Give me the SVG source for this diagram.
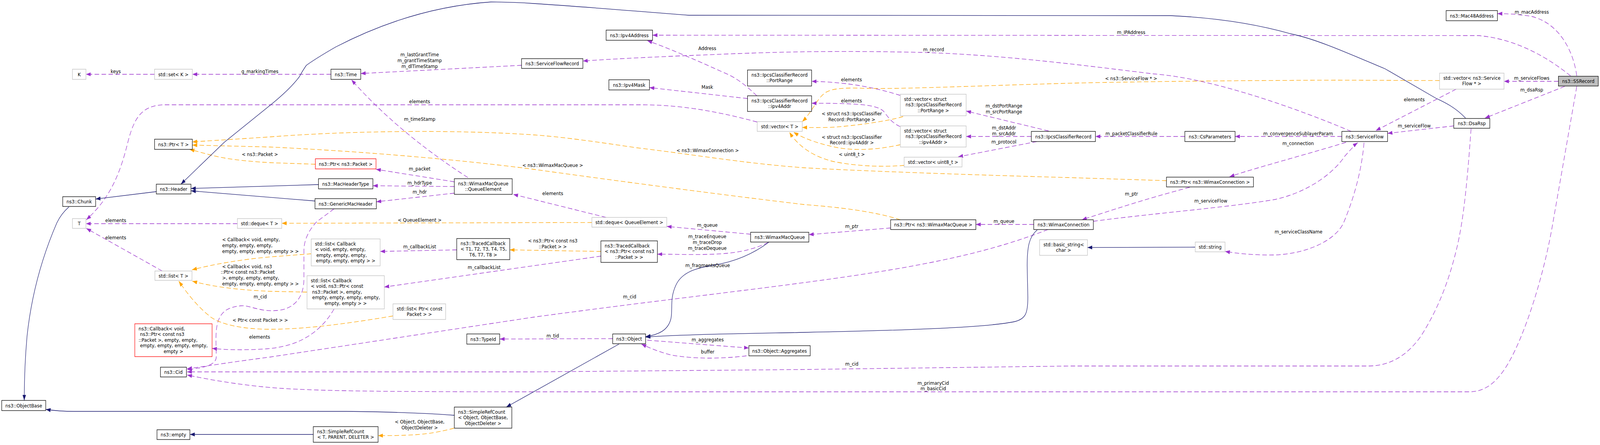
<svg xmlns="http://www.w3.org/2000/svg" width="4617" height="1138" viewBox="0 0 4617 1138" preserveAspectRatio="none">
<defs>
<style>
svg:root{width:100vw;height:100vh;display:block;overflow:hidden}
text{font-family:"DejaVu Sans","Liberation Sans",sans-serif;font-size:13px;fill:#000}
.m{text-anchor:middle}
.bx{fill:#fff;stroke:#000;stroke-width:1.3}
.gy{fill:#fff;stroke:#bfbfbf;stroke-width:1.3}
.rd{fill:#fff;stroke:#ff0000;stroke-width:1.3}
.sel{fill:#bfbfbf;stroke:#000;stroke-width:1.3}
.e{fill:none;stroke-width:1.3}
.p{stroke:#9a32cd;stroke-dasharray:13,7;marker-end:url(#ap)}
.o{stroke:#ffa500;stroke-dasharray:13,7;marker-end:url(#ao)}
.b{stroke:#191970;marker-end:url(#ab)}
</style>
<marker id="ap" viewBox="0 0 14 10" refX="14" refY="5" markerWidth="14" markerHeight="10" markerUnits="userSpaceOnUse" orient="auto"><path d="M0,0L14,5L0,10z" fill="#9a32cd"/></marker>
<marker id="ao" viewBox="0 0 14 10" refX="14" refY="5" markerWidth="14" markerHeight="10" markerUnits="userSpaceOnUse" orient="auto"><path d="M0,0L14,5L0,10z" fill="#ffa500"/></marker>
<marker id="ab" viewBox="0 0 14 10" refX="14" refY="5" markerWidth="14" markerHeight="10" markerUnits="userSpaceOnUse" orient="auto"><path d="M0,0L14,5L0,10z" fill="#191970"/></marker>
</defs>
<rect width="4617" height="1138" fill="#fff"/>
<g id="connectors">
<path class="e p" d="M446,190L248,190"/>
<path class="e p" d="M955,190L555,190"/>
<path class="e p" d="M1505,167L1041,188"/>
<path class="e p" d="M1350,454Q1150,340 1014,204"/>
<path class="e p" d="M2185,312C2050,280 1950,268 1848,268L478,268C410,268 388,300 370,360C348,440 320,505 249,562"/>
<path class="e p" d="M685,572L248,572"/>
<path class="e p" d="M468,693L249,584"/>
<path class="e p" d="M964,534L914,567C895,585 877,610 877,641L877,713C877,760 850,790 800,794C750,798 720,780 696,782C660,785 640,795 630,820C620,845 624,880 624,913C624,930 600,940 540,945"/>
<path class="e p" d="M3024,587C2700,700 2300,720 1540,811L780,913C650,928 600,936 540,943"/>
<path class="e p" d="M4245,329C4235,450 4225,560 4202,641C4180,720 4150,790 4100,860C4060,910 4010,936 3948,936L3090,936L2310,945L1540,951L540,951"/>
<path class="e p" d="M4550,221L4481,570C4460,680 4420,800 4380,880C4340,960 4300,1002 4240,1002L1550,1002C1100,1002 900,1000 780,991C680,983 600,970 540,959"/>
<path class="e o" d="M898,649L780,657C700,663 620,675 554,690"/>
<path class="e o" d="M886,747L780,745C700,742 620,735 555,719"/>
<path class="e o" d="M1134,808C1000,828 880,842 780,842C700,842 640,830 610,812C570,785 540,750 516,719"/>
<path class="e p" d="M964,790C945,820 915,850 869,870C840,883 800,890 770,892C720,895 670,896 612,891"/>
<path class="e p" d="M1318,639L1097,643"/>
<path class="e p" d="M1734,655L1109,734"/>
<path class="e p" d="M2217,620C2170,640 2120,648 2060,650C2000,652 1950,650 1897,650"/>
<path class="e p" d="M2166,599L1924,579"/>
<path class="e p" d="M1749,556L1481,497"/>
<path class="e o" d="M1708,569L813,571"/>
<path class="e p" d="M1311,465L1085,433"/>
<path class="e p" d="M1311,477L1076,475"/>
<path class="e p" d="M1311,494L1086,516"/>
<path class="e b" d="M919,472L551,482"/>
<path class="e b" d="M909,514L551,488"/>
<path class="e b" d="M451,490L276,509"/>
<path class="e b" d="M199,529C185,540 172,555 164,570C120,660 90,760 78,860C72,920 70,980 70,1024"/>
<path class="e b" d="M1311,1062C1200,1055 1100,1053 1000,1052L214,1052C180,1052 155,1050 132,1047"/>
<path class="e b" d="M904,1111L548,1111"/>
<path class="e o" d="M1310,1095C1270,1105 1220,1112 1168,1113C1140,1114 1110,1114 1091,1114"/>
<path class="e b" d="M1786,880L1461,1041"/>
<path class="e p" d="M1768,866L1442,867"/>
<path class="e p" d="M1868,870L2161,890"/>
<path class="e p" d="M2154,910C2080,918 2000,918 1938,908C1900,900 1870,888 1851,880"/>
<path class="e b" d="M2219,619C2180,645 2130,668 2060,678C2000,686 1965,700 1950,730C1932,765 1942,790 1936,815C1928,845 1900,856 1863,861"/>
<path class="e b" d="M2993,588C2970,605 2964,630 2964,680L2966,760C2966,800 2960,815 2930,822C2850,838 2600,845 2320,850C2100,854 1950,856 1863,862"/>
<path class="e p" d="M2983,574L2816,574"/>
<path class="e p" d="M2570,583L2334,600"/>
<path class="e o" d="M2598,562C2520,540 2420,530 2320,523C2100,500 1800,465 1540,433C1300,405 1000,385 780,376L555,371"/>
<path class="e o" d="M3366,462L3080,454C2800,447 2500,438 2320,429C2150,418 2000,395 1838,378C1700,360 1620,350 1540,345C1350,333 1050,332 780,350C680,356 600,360 555,363"/>
<path class="e o" d="M910,420L780,416C700,412 650,406 610,397C585,391 565,386 547,382"/>
<path class="e o" d="M2606,298C2560,310 2480,320 2409,325C2370,327 2340,326 2315,326"/>
<path class="e o" d="M2598,370C2540,382 2470,386 2420,378C2370,370 2320,355 2290,338"/>
<path class="e o" d="M2609,423C2540,428 2460,424 2400,412C2340,398 2300,370 2278,338"/>
<path class="e o" d="M4154,206L3860,205C3500,206 3200,210 3080,213C2800,220 2600,228 2500,226C2440,224 2400,225 2380,238C2355,255 2345,285 2315,311"/>
<path class="e p" d="M3026,335L2788,284"/>
<path class="e p" d="M2976,349L2788,349"/>
<path class="e p" d="M2992,362L2765,401"/>
<path class="e p" d="M3419,349L3161,349"/>
<path class="e p" d="M3872,349L3564,349"/>
<path class="e p" d="M3884,364C3750,400 3620,430 3548,452"/>
<path class="e p" d="M3433,479C3300,510 3200,540 3122,562"/>
<path class="e p" d="M3155,566C3300,548 3550,530 3680,510C3780,490 3850,440 3880,400C3900,380 3910,370 3918,365"/>
<path class="e p" d="M3899,336C3750,280 3500,200 3329,189C3150,170 2900,140 2658,134C2450,130 2300,131 2100,138C1900,145 1780,150 1682,156"/>
<path class="e p" d="M2184,245C2160,225 2130,200 2087,185C2000,150 1920,120 1868,104"/>
<path class="e p" d="M2157,252L1874,224"/>
<path class="e p" d="M2598,244C2530,225 2450,210 2342,208"/>
<path class="e p" d="M2598,324C2570,313 2560,295 2549,284C2530,268 2480,264 2342,264"/>
<path class="e p" d="M4532,194C4470,150 4380,100 4266,91L1883,90"/>
<path class="e p" d="M4550,194C4540,130 4500,60 4420,42C4380,36 4350,35 4321,35"/>
<path class="e p" d="M4497,208L4340,208"/>
<path class="e p" d="M4515,221L4285,302"/>
<path class="e p" d="M4202,228L3970,334"/>
<path class="e p" d="M4195,322L4004,341"/>
<path class="e b" d="M4229,302C4200,275 4170,262 4143,251L3997,176C3900,140 3800,100 3727,87C3620,60 3500,45 3378,40L1988,39C1850,30 1700,18 1540,9C1480,5 1440,5 1417,5C1250,15 1100,60 969,120C920,145 895,160 884,167C870,185 868,190 864,196C840,225 800,255 770,276L647,364L522,471"/>
<path class="e b" d="M3449,632L3138,633"/>
<path class="e p" d="M3936,365C3930,430 3910,500 3877,570C3850,620 3760,650 3677,652C3620,653 3570,648 3535,643"/>
<path class="e o" d="M1734,643L1471,639"/>
<g id="edge-labels">
<text class="m" x="334" y="187">keys</text>
<text class="m" x="750" y="187">g_markingTimes</text>
<text class="m" x="1211" y="144">m_lastGrantTime</text>
<text class="m" x="1211" y="159">m_grantTimeStamp</text>
<text class="m" x="1211" y="174">m_dlTimeStamp</text>
<text class="m" x="1211" y="264">elements</text>
<text class="m" x="1211" y="309">m_timeStamp</text>
<text class="m" x="750" y="399">&lt; ns3::Packet &gt;</text>
<text class="m" x="1595" y="427">&lt; ns3::WimaxMacQueue &gt;</text>
<text class="m" x="2042" y="389">&lt; ns3::WimaxConnection &gt;</text>
<text class="m" x="1211" y="436">m_packet</text>
<text class="m" x="1211" y="472">m_hdrType</text>
<text class="m" x="1211" y="495">m_hdr</text>
<text class="m" x="1595" y="499">elements</text>
<text class="m" x="1211" y="567">&lt; QueueElement &gt;</text>
<text class="m" x="334" y="568">elements</text>
<text class="m" x="334" y="612">elements</text>
<text x="641" y="617">&lt; Callback&lt; void, empty,</text>
<text x="641" y="632">empty, empty, empty,</text>
<text x="641" y="647">empty, empty, empty, empty &gt; &gt;</text>
<text x="641" y="686">&lt; Callback&lt; void, ns3</text>
<text x="637" y="700">::Ptr&lt; const ns3::Packet</text>
<text x="641" y="715">&gt;, empty, empty, empty,</text>
<text x="641" y="730">empty, empty, empty, empty &gt; &gt;</text>
<text class="m" x="751" y="763">m_cid</text>
<text class="m" x="751" y="823">&lt; Ptr&lt; const Packet &gt; &gt;</text>
<text class="m" x="749" y="866">elements</text>
<text class="m" x="1211" y="635">m_callbackList</text>
<text class="m" x="1397" y="688">m_callbackList</text>
<text class="m" x="1595" y="620">&lt; ns3::Ptr&lt; const ns3</text>
<text class="m" x="1595" y="635">::Packet &gt; &gt;</text>
<text class="m" x="2041" y="609">m_traceEnqueue</text>
<text class="m" x="2041" y="624">m_traceDrop</text>
<text class="m" x="2041" y="639">m_traceDequeue</text>
<text class="m" x="2041" y="580">m_queue</text>
<text class="m" x="2042" y="683">m_fragmentsQueue</text>
<text class="m" x="1817" y="763">m_cid</text>
<text class="m" x="1595" y="863">m_tid</text>
<text class="m" x="2042" y="873">m_aggregates</text>
<text class="m" x="2042" y="904">buffer</text>
<text class="m" x="1211" y="1083">&lt; Object, ObjectBase,</text>
<text class="m" x="1211" y="1098">ObjectDeleter &gt;</text>
<text class="m" x="2458" y="935">m_cid</text>
<text class="m" x="2693" y="984">m_primaryCid</text>
<text class="m" x="2693" y="998">m_basicCid</text>
<text class="m" x="2041" y="128">Address</text>
<text class="m" x="2041" y="227">Mask</text>
<text class="m" x="2694" y="131">m_record</text>
<text class="m" x="2457" y="208">elements</text>
<text class="m" x="2457" y="262">elements</text>
<text class="m" x="2458" y="295">&lt; struct ns3::IpcsClassifier</text>
<text class="m" x="2458" y="310">Record::PortRange &gt;</text>
<text class="m" x="2458" y="355">&lt; struct ns3::IpcsClassifier</text>
<text class="m" x="2458" y="369">Record::ipv4Addr &gt;</text>
<text class="m" x="2458" y="399">&lt; uint8_t &gt;</text>
<text class="m" x="2897" y="275">m_dstPortRange</text>
<text class="m" x="2897" y="290">m_srcPortRange</text>
<text class="m" x="2897" y="331">m_dstAddr</text>
<text class="m" x="2897" y="346">m_srcAddr</text>
<text class="m" x="2897" y="367">m_protocol</text>
<text class="m" x="2458" y="583">m_ptr</text>
<text class="m" x="2897" y="570">m_queue</text>
<text class="m" x="3264" y="87">m_IPAddress</text>
<text class="m" x="3264" y="205">&lt; ns3::ServiceFlow * &gt;</text>
<text class="m" x="3265" y="346">m_packetClassifierRule</text>
<text class="m" x="3746" y="346">m_convergenceSublayerParam</text>
<text class="m" x="3746" y="371">m_connection</text>
<text class="m" x="3265" y="500">m_ptr</text>
<text class="m" x="3494" y="518">m_serviceFlow</text>
<text class="m" x="3747" y="597">m_serviceClassName</text>
<text class="m" x="4420" y="35">m_macAddress</text>
<text class="m" x="4420" y="204">m_serviceFlows</text>
<text class="m" x="4420" y="234">m_dsaRsp</text>
<text class="m" x="4081" y="259">elements</text>
<text class="m" x="4081" y="326">m_serviceFlow</text>
</g>
</g>
<g id="nodes">
<g id="n-K"><rect class="gy" x="209" y="177" width="39" height="26"/><text class="m" x="228.5" y="194.6">K</text></g>
<g id="n-set"><rect class="gy" x="446" y="177" width="109" height="26"/><text class="m" x="500.5" y="194.6">std::set&lt; K &gt;</text></g>
<g id="n-Time"><rect class="bx" x="955" y="177" width="86" height="26"/><text class="m" x="998" y="194.6">ns3::Time</text></g>
<g id="n-ServiceFlowRecord"><rect class="bx" x="1505" y="150" width="177" height="25"/><text class="m" x="1593.5" y="167.1">ns3::ServiceFlowRecord</text></g>
<g id="n-Ipv4Address"><rect class="bx" x="1749" y="77" width="134" height="26"/><text class="m" x="1816" y="94.6">ns3::Ipv4Address</text></g>
<g id="n-Ipv4Mask"><rect class="bx" x="1757" y="204" width="117" height="26"/><text class="m" x="1815.5" y="221.6">ns3::Ipv4Mask</text></g>
<g id="n-PortRange"><rect class="bx" x="2157" y="179" width="185" height="41"/><text class="m" x="2249.5" y="195.6">ns3::IpcsClassifierRecord</text><text class="m" x="2249.5" y="210.1">::PortRange</text></g>
<g id="n-ipv4Addr"><rect class="bx" x="2157" y="245" width="185" height="40"/><text class="m" x="2249.5" y="261.6">ns3::IpcsClassifierRecord</text><text class="m" x="2249.5" y="276.1">::ipv4Addr</text></g>
<g id="n-vectorT"><rect class="gy" x="2185" y="311" width="130" height="25"/><text class="m" x="2250" y="328.1">std::vector&lt; T &gt;</text></g>
<g id="n-vecPortRange"><rect class="gy" x="2598" y="241" width="190" height="55"/><text x="2609" y="257.6">std::vector&lt; struct</text><text x="2613" y="272.1">ns3::IpcsClassifierRecord</text><text class="m" x="2693" y="286.6">::PortRange &gt;</text></g>
<g id="n-vecIpv4Addr"><rect class="gy" x="2598" y="322" width="190" height="54"/><text x="2609" y="338.6">std::vector&lt; struct</text><text x="2613" y="353.1">ns3::IpcsClassifierRecord</text><text class="m" x="2693" y="367.6">::ipv4Addr &gt;</text></g>
<g id="n-vecUint8"><rect class="gy" x="2609" y="402" width="167" height="25"/><text class="m" x="2692.5" y="419.1">std::vector&lt; uint8_t &gt;</text></g>
<g id="n-IpcsClassifierRecord"><rect class="bx" x="2976" y="336" width="185" height="26"/><text class="m" x="3068.5" y="353.6">ns3::IpcsClassifierRecord</text></g>
<g id="n-CsParameters"><rect class="bx" x="3419" y="336" width="145" height="26"/><text class="m" x="3491.5" y="353.6">ns3::CsParameters</text></g>
<g id="n-ServiceFlow"><rect class="bx" x="3872" y="336" width="132" height="26"/><text class="m" x="3938" y="353.6">ns3::ServiceFlow</text></g>
<g id="n-PtrWimaxConnection"><rect class="bx" x="3366" y="453" width="251" height="25"/><text class="m" x="3491.5" y="470.1">ns3::Ptr&lt; ns3::WimaxConnection &gt;</text></g>
<g id="n-WimaxConnection"><rect class="bx" x="2983" y="562" width="172" height="25"/><text class="m" x="3069" y="579.1">ns3::WimaxConnection</text></g>
<g id="n-PtrWimaxMacQueue"><rect class="bx" x="2570" y="562" width="246" height="25"/><text class="m" x="2693" y="579.1">ns3::Ptr&lt; ns3::WimaxMacQueue &gt;</text></g>
<g id="n-WimaxMacQueue"><rect class="bx" x="2166" y="594" width="168" height="25"/><text class="m" x="2250" y="611.1">ns3::WimaxMacQueue</text></g>
<g id="n-dequeQE"><rect class="gy" x="1708" y="556" width="216" height="25"/><text class="m" x="1816" y="573.1">std::deque&lt; QueueElement &gt;</text></g>
<g id="n-QueueElement"><rect class="bx" x="1311" y="457" width="167" height="40"/><text class="m" x="1394.5" y="473.6">ns3::WimaxMacQueue</text><text class="m" x="1394.5" y="488.1">::QueueElement</text></g>
<g id="n-PtrPacket"><rect class="rd" x="910" y="406" width="175" height="26"/><text class="m" x="997.5" y="423.6">ns3::Ptr&lt; ns3::Packet &gt;</text></g>
<g id="n-MacHeaderType"><rect class="bx" x="919" y="457" width="157" height="26"/><text class="m" x="997.5" y="474.6">ns3::MacHeaderType</text></g>
<g id="n-GenericMacHeader"><rect class="bx" x="909" y="508" width="177" height="26"/><text class="m" x="997.5" y="525.6">ns3::GenericMacHeader</text></g>
<g id="n-Header"><rect class="bx" x="451" y="471" width="100" height="25"/><text class="m" x="501" y="488.1">ns3::Header</text></g>
<g id="n-Chunk"><rect class="bx" x="181" y="503" width="95" height="25"/><text class="m" x="228.5" y="520.1">ns3::Chunk</text></g>
<g id="n-PtrT"><rect class="bx" x="446" y="356" width="109" height="26"/><text class="m" x="500.5" y="373.6">ns3::Ptr&lt; T &gt;</text></g>
<g id="n-T"><rect class="gy" x="209" y="559" width="39" height="25"/><text class="m" x="228.5" y="576.1">T</text></g>
<g id="n-dequeT"><rect class="gy" x="685" y="559" width="128" height="25"/><text class="m" x="749" y="576.1">std::deque&lt; T &gt;</text></g>
<g id="n-listT"><rect class="gy" x="447" y="693" width="107" height="24"/><text class="m" x="500.5" y="709.6">std::list&lt; T &gt;</text></g>
<g id="n-listCb1"><rect class="gy" x="898" y="611" width="199" height="69"/><text x="909" y="627.6">std::list&lt; Callback</text><text x="909" y="642.1">&lt; void, empty, empty,</text><text x="913" y="656.6">empty, empty, empty,</text><text class="m" x="997.5" y="671.1">empty, empty, empty &gt; &gt;</text></g>
<g id="n-listCb2"><rect class="gy" x="886" y="705" width="223" height="85"/><text x="897" y="721.6">std::list&lt; Callback</text><text x="897" y="736.1">&lt; void, ns3::Ptr&lt; const</text><text x="901" y="750.6">ns3::Packet &gt;, empty,</text><text x="901" y="765.1">empty, empty, empty, empty,</text><text class="m" x="997.5" y="779.6">empty, empty &gt; &gt;</text></g>
<g id="n-listPtrPacket"><rect class="gy" x="1134" y="777" width="152" height="40"/><text x="1145" y="793.6">std::list&lt; Ptr&lt; const</text><text class="m" x="1210" y="808.1">Packet &gt; &gt;</text></g>
<g id="n-TracedCbT"><rect class="bx" x="1318" y="610" width="153" height="54"/><text x="1329" y="626.6">ns3::TracedCallback</text><text x="1329" y="641.1">&lt; T1, T2, T3, T4, T5,</text><text class="m" x="1394.5" y="655.6">T6, T7, T8 &gt;</text></g>
<g id="n-TracedCbPtr"><rect class="bx" x="1734" y="616" width="163" height="55"/><text x="1745" y="632.6">ns3::TracedCallback</text><text x="1745" y="647.1">&lt; ns3::Ptr&lt; const ns3</text><text class="m" x="1815.5" y="661.6">::Packet &gt; &gt;</text></g>
<g id="n-Callback"><rect class="rd" x="389" y="828" width="223" height="84"/><text x="400" y="844.6">ns3::Callback&lt; void,</text><text x="404" y="859.1">ns3::Ptr&lt; const ns3</text><text x="400" y="873.6">::Packet &gt;, empty, empty,</text><text x="404" y="888.1">empty, empty, empty, empty,</text><text class="m" x="500.5" y="902.6">empty &gt;</text></g>
<g id="n-Cid"><rect class="bx" x="463" y="939" width="75" height="25"/><text class="m" x="500.5" y="956.1">ns3::Cid</text></g>
<g id="n-ObjectBase"><rect class="bx" x="5" y="1024" width="127" height="26"/><text class="m" x="68.5" y="1041.6">ns3::ObjectBase</text></g>
<g id="n-empty"><rect class="bx" x="453" y="1099" width="95" height="25"/><text class="m" x="500.5" y="1116.1">ns3::empty</text></g>
<g id="n-SRCObject"><rect class="bx" x="1311" y="1041" width="166" height="54"/><text x="1322" y="1057.6">ns3::SimpleRefCount</text><text x="1322" y="1072.1">&lt; Object, ObjectBase,</text><text class="m" x="1394" y="1086.6">ObjectDeleter &gt;</text></g>
<g id="n-SRCT"><rect class="bx" x="904" y="1091" width="187" height="40"/><text x="915" y="1107.6">ns3::SimpleRefCount</text><text class="m" x="997.5" y="1122.1">&lt; T, PARENT, DELETER &gt;</text></g>
<g id="n-TypeId"><rect class="bx" x="1347" y="854" width="95" height="26"/><text class="m" x="1394.5" y="871.6">ns3::TypeId</text></g>
<g id="n-Object"><rect class="bx" x="1768" y="854" width="95" height="25"/><text class="m" x="1815.5" y="871.1">ns3::Object</text></g>
<g id="n-Aggregates"><rect class="bx" x="2161" y="884" width="177" height="26"/><text class="m" x="2249.5" y="901.6">ns3::Object::Aggregates</text></g>
<g id="n-basicString"><rect class="gy" x="3000" y="613" width="138" height="40"/><text x="3011" y="629.6">std::basic_string&lt;</text><text class="m" x="3069" y="644.1">char &gt;</text></g>
<g id="n-string"><rect class="gy" x="3449" y="619" width="86" height="25"/><text class="m" x="3492" y="636.1">std::string</text></g>
<g id="n-Mac48Address"><rect class="bx" x="4173" y="27" width="148" height="26"/><text class="m" x="4247" y="44.6">ns3::Mac48Address</text></g>
<g id="n-vecServiceFlow"><rect class="gy" x="4154" y="187" width="186" height="41"/><text x="4165" y="203.6">std::vector&lt; ns3::Service</text><text class="m" x="4247" y="218.1">Flow * &gt;</text></g>
<g id="n-SSRecord"><rect class="sel" x="4497" y="195" width="115" height="25"/><text class="m" x="4554.5" y="212.1">ns3::SSRecord</text></g>
<g id="n-DsaRsp"><rect class="bx" x="4195" y="303" width="104" height="25"/><text class="m" x="4247" y="320.1">ns3::DsaRsp</text></g>
</g>
</svg>
